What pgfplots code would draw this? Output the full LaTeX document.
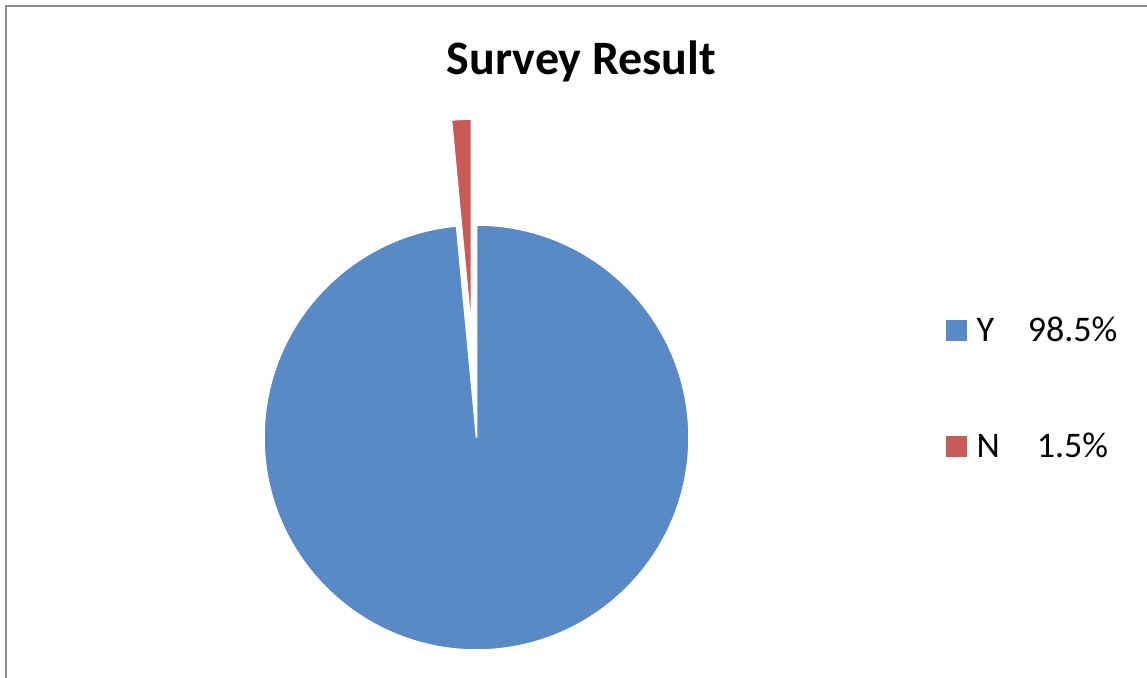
\documentclass[border=0pt]{standalone}
\usepackage{pgfplots}
\usepackage{pgfplotstable}
\pgfplotsset{compat=1.18}
\usepackage{fontspec}
\setmainfont{Carlito}
\definecolor{pieblue}{HTML}{5A8AC6}
\definecolor{piered}{HTML}{C65B57}
\definecolor{framegray}{HTML}{8C8C8C}

\pgfplotstableread{
label value
Y 98.5
N 1.5
}\piedata

\begin{document}
\begin{tikzpicture}
\pgfplotstablegetelem{0}{value}\of\piedata \let\valY\pgfplotsretval
\pgfplotstablegetelem{1}{value}\of\piedata \let\valN\pgfplotsretval
\pgfmathsetmacro\tot{\valY+\valN}
\pgfmathsetmacro\aY{360*(\valY/\tot)}
\pgfmathsetmacro\aN{360*(\valN/\tot)}
\pgfmathsetmacro\eY{90-\aY}
\pgfmathsetmacro\eN{\eY-\aN}
\pgfmathsetmacro\mN{\eY-\aN/2}
\begin{axis}[
  x=1bp, y=1bp, xmin=0, xmax=1147, ymin=0, ymax=678,
  scale only axis, hide axis, clip=false, anchor=origin, at={(0,0)},
  legend style={draw=none, fill=none, at={(946/1147,363/678)}, anchor=north west,
    font=\fontsize{36bp}{39bp}\selectfont, row sep=86bp, inner sep=0pt},
  legend cell align=left,
]
\addlegendimage{legend image code/.code={\fill[pieblue] (0bp,-10bp) rectangle (20bp,10bp);}}
\addlegendentry{\hspace*{8bp}\makebox[46bp][l]{Y}\makebox[100bp][c]{98.5\%}}
\addlegendimage{legend image code/.code={\fill[piered] (0bp,-10bp) rectangle (20bp,10bp);}}
\addlegendentry{\hspace*{8bp}\makebox[46bp][l]{N}\makebox[100bp][c]{1.5\%}}
% frame
\draw[framegray, line width=2bp] (axis cs:6,0) -- (axis cs:6,672) -- (axis cs:1147,672);
% title
\node[anchor=base, font=\bfseries\fontsize{48bp}{52bp}\selectfont] at (axis cs:581.5,603) {Survey Result};
% Y slice
\filldraw[fill=pieblue, draw=white, line width=1.5bp]
  (axis cs:476.5,240.5) -- ++(90:212.5bp) arc[start angle=90, end angle=\eY, radius=212.5bp] -- cycle;
% N slice (exploded)
\path (axis cs:476.5,240.5) ++(\mN:106bp) coordinate (cN);
\filldraw[fill=piered, draw=white, line width=1.5bp]
  (cN) -- ++(\eY:212.5bp) arc[start angle=\eY, end angle=\eN, radius=212.5bp] -- cycle;
\end{axis}
\pgfresetboundingbox
\useasboundingbox (0,0) rectangle (1147bp,678bp);
\end{tikzpicture}
\end{document}
